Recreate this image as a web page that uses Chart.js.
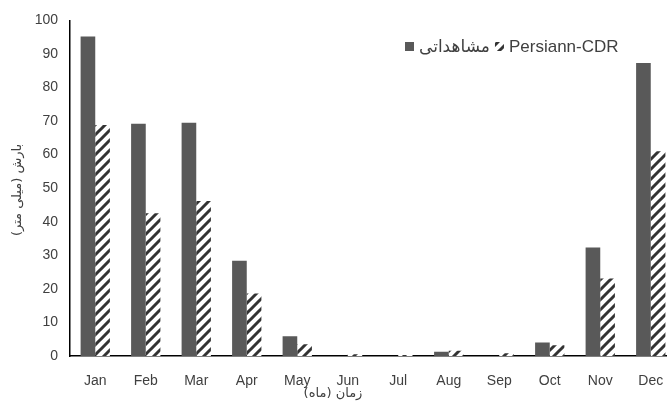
<!DOCTYPE html>
<html>
<head>
<meta charset="utf-8">
<script src="https://cdn.jsdelivr.net/npm/chart.js@4"></script>
<style>
  html, body { margin: 0; padding: 0; background: #fff; overflow: hidden; }
  #wrap { width: 690px; height: 403px; }
</style>
</head>
<body>
<div id="wrap"><canvas id="chart" width="690" height="403"></canvas></div>
<script>
// monthly precipitation (mm), observed vs Persiann-CDR
const months = ['Jan', 'Feb', 'Mar', 'Apr', 'May', 'Jun', 'Jul', 'Aug', 'Sep', 'Oct', 'Nov', 'Dec'];
const observed = [95.2, 69.2, 69.5, 28.4, 5.9, 0, 0, 1.3, 0, 4.0, 32.3, 87.3];
const persiann = [68.8, 42.5, 46.2, 18.6, 3.5, 0.5, 0.3, 1.6, 0.8, 3.2, 23.1, 61.0];
const seriesNames = ['مشاهداتی', 'Persiann-CDR'];
const yMin = 0, yMax = 100, yStep = 10;
const xTitle = 'زمان (ماه)';
const yTitle = 'بارش (میلی متر)';

const textColor = '#404040';
const darkBar = '#595959';

// diagonal hatch fill, like Excel's "wide upward diagonal"
function makeHatch() {
  const t = document.createElement('canvas');
  t.width = 10; t.height = 10;
  const c = t.getContext('2d');
  c.fillStyle = '#fff';
  c.fillRect(0, 0, 10, 10);
  c.strokeStyle = '#333';
  c.lineWidth = 3;
  c.beginPath();
  c.moveTo(-2, 12); c.lineTo(12, -2);
  c.moveTo(-7, 7); c.lineTo(7, -7);
  c.moveTo(3, 17); c.lineTo(17, 3);
  c.stroke();
  return c.createPattern(t, 'repeat');
}
const hatch = makeHatch();

// legend sits inside the plot, top right; axis titles centred on the image
const extras = {
  id: 'extras',
  afterDraw(chart) {
    const ctx = chart.ctx;
    ctx.save();
    // legend
    ctx.font = '17px "Liberation Sans", "DejaVu Sans", sans-serif';
    ctx.textBaseline = 'middle';
    ctx.fillStyle = textColor;
    let x = 405;
    const y = 47;
    chart.data.datasets.forEach(ds => {
      ctx.fillStyle = ds.backgroundColor;
      ctx.fillRect(x, y - 5, 9, 9);
      x += 14;
      ctx.fillStyle = textColor;
      ctx.textAlign = 'left';
      ctx.fillText(ds.label, x, y);
      x += ctx.measureText(ds.label).width + 5;
    });
    // x title
    ctx.font = '13px "DejaVu Sans", sans-serif';
    ctx.textAlign = 'center';
    ctx.fillText(xTitle, 333, 394);
    // y title
    ctx.translate(18, 190);
    ctx.rotate(-Math.PI / 2);
    ctx.fillText(yTitle, 0, 0);
    ctx.restore();
  }
};

new Chart(document.getElementById('chart'), {
  type: 'bar',
  data: {
    labels: months,
    datasets: [
      { label: seriesNames[0], data: observed, backgroundColor: darkBar },
      { label: seriesNames[1], data: persiann, backgroundColor: hatch }
    ]
  },
  options: {
    responsive: false,
    animation: false,
    devicePixelRatio: 1,
    layout: { padding: { top: 20, right: 14, left: 0, bottom: 0 } },
    datasets: { bar: { categoryPercentage: 0.58, barPercentage: 1 } },
    plugins: { legend: { display: false }, tooltip: { enabled: false } },
    scales: {
      x: {
        grid: { display: false, drawTicks: false },
        border: { color: '#000', width: 1.5 },
        ticks: { color: textColor, font: { size: 14, family: '"Liberation Sans", sans-serif' }, padding: 17 },
        afterFit: s => { s.height = 47; }
      },
      y: {
        min: yMin, max: yMax,
        grid: { display: false, drawTicks: false },
        border: { color: '#000', width: 1.5 },
        ticks: { stepSize: yStep, color: textColor, font: { size: 14, family: '"Liberation Sans", sans-serif' }, padding: 12 },
        afterFit: s => { s.width = 70; }
      }
    }
  },
  plugins: [extras]
});
</script>
</body>
</html>
